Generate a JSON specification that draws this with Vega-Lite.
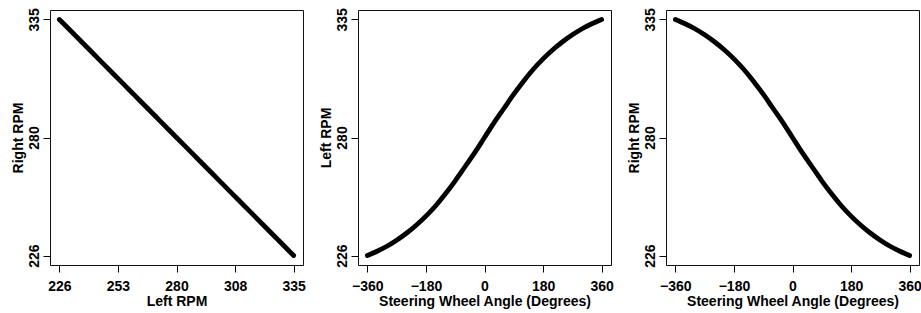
{
  "$schema": "https://vega.github.io/schema/vega-lite/v6.json",
  "background": "white",
  "padding": {"left": 10, "top": 7, "right": 0, "bottom": 0},
  "bounds": "flush",
  "spacing": 55,
  "data": {"values": [
    {"angle": -360, "left": 226.0, "right": 335.0},
    {"angle": -330, "left": 228.0, "right": 333.0},
    {"angle": -300, "left": 230.3, "right": 330.7},
    {"angle": -270, "left": 233.1, "right": 327.9},
    {"angle": -240, "left": 236.3, "right": 324.7},
    {"angle": -210, "left": 240.0, "right": 321.0},
    {"angle": -180, "left": 244.2, "right": 316.8},
    {"angle": -150, "left": 249.0, "right": 312.0},
    {"angle": -120, "left": 254.5, "right": 306.5},
    {"angle": -90, "left": 260.5, "right": 300.5},
    {"angle": -60, "left": 267.0, "right": 294.0},
    {"angle": -30, "left": 273.5, "right": 287.5},
    {"angle": 0, "left": 280.5, "right": 280.5},
    {"angle": 30, "left": 287.5, "right": 273.5},
    {"angle": 60, "left": 294.0, "right": 267.0},
    {"angle": 90, "left": 300.5, "right": 260.5},
    {"angle": 120, "left": 306.5, "right": 254.5},
    {"angle": 150, "left": 312.0, "right": 249.0},
    {"angle": 180, "left": 316.8, "right": 244.2},
    {"angle": 210, "left": 321.0, "right": 240.0},
    {"angle": 240, "left": 324.7, "right": 236.3},
    {"angle": 270, "left": 327.9, "right": 233.1},
    {"angle": 300, "left": 330.7, "right": 230.3},
    {"angle": 330, "left": 333.0, "right": 228.0},
    {"angle": 360, "left": 335.0, "right": 226.0}
  ]},
  "config": {
    "view": {"stroke": "#111111", "strokeWidth": 1, "fill": "white"},
    "font": "Liberation Sans",
    "axis": {
      "grid": false,
      "domain": false,
      "ticks": true,
      "tickSize": 7,
      "tickColor": "black",
      "tickWidth": 1,
      "labelFont": "Liberation Sans",
      "labelFontSize": 14,
      "labelFontWeight": "bold",
      "labelColor": "black",
      "labelFlush": false,
      "labelOverlap": false,
      "titleFont": "Liberation Sans",
      "titleFontSize": 14,
      "titleFontWeight": "bold",
      "titleColor": "black"
    },
    "axisX": {"labelPadding": 7, "titlePadding": 1.5},
    "axisY": {"labelAngle": 270, "labelAlign": "center", "labelBaseline": "alphabetic", "labelPadding": 5, "titlePadding": 2}
  },
  "hconcat": [
    {
      "width": 253,
      "height": 255,
      "mark": {"type": "line", "color": "black", "strokeWidth": 4.8, "strokeCap": "round", "interpolate": "monotone"},
      "encoding": {
        "x": {"field": "left", "type": "quantitative", "title": "Left RPM",
          "scale": {"domain": [221.64, 339.36], "nice": false, "zero": false},
          "axis": {"values": [226, 253.25, 280.5, 307.75, 335], "labelExpr": "datum.value == 280.5 ? '280' : format(datum.value, '.0f')"}},
        "y": {"field": "right", "type": "quantitative", "title": "Right RPM",
          "scale": {"domain": [221.64, 339.36], "nice": false, "zero": false},
          "axis": {"values": [226, 280.5, 335], "labelExpr": "datum.value == 280.5 ? '280' : format(datum.value, '.0f')"}}
      }
    },
    {
      "width": 253,
      "height": 255,
      "mark": {"type": "line", "color": "black", "strokeWidth": 4.8, "strokeCap": "round", "interpolate": "monotone"},
      "encoding": {
        "x": {"field": "angle", "type": "quantitative", "title": "Steering Wheel Angle (Degrees)",
          "scale": {"domain": [-388.8, 388.8], "nice": false, "zero": false},
          "axis": {"values": [-360, -180, 0, 180, 360], "labelExpr": "replace(format(datum.value, 'd'), '-', '\u2212')"}},
        "y": {"field": "left", "type": "quantitative", "title": "Left RPM",
          "scale": {"domain": [221.64, 339.36], "nice": false, "zero": false},
          "axis": {"values": [226, 280.5, 335], "labelExpr": "datum.value == 280.5 ? '280' : format(datum.value, '.0f')"}}
      }
    },
    {
      "width": 253,
      "height": 255,
      "mark": {"type": "line", "color": "black", "strokeWidth": 4.8, "strokeCap": "round", "interpolate": "monotone"},
      "encoding": {
        "x": {"field": "angle", "type": "quantitative", "title": "Steering Wheel Angle (Degrees)",
          "scale": {"domain": [-388.8, 388.8], "nice": false, "zero": false},
          "axis": {"values": [-360, -180, 0, 180, 360], "labelExpr": "replace(format(datum.value, 'd'), '-', '\u2212')"}},
        "y": {"field": "right", "type": "quantitative", "title": "Right RPM",
          "scale": {"domain": [221.64, 339.36], "nice": false, "zero": false},
          "axis": {"values": [226, 280.5, 335], "labelExpr": "datum.value == 280.5 ? '280' : format(datum.value, '.0f')"}}
      }
    }
  ]
}
